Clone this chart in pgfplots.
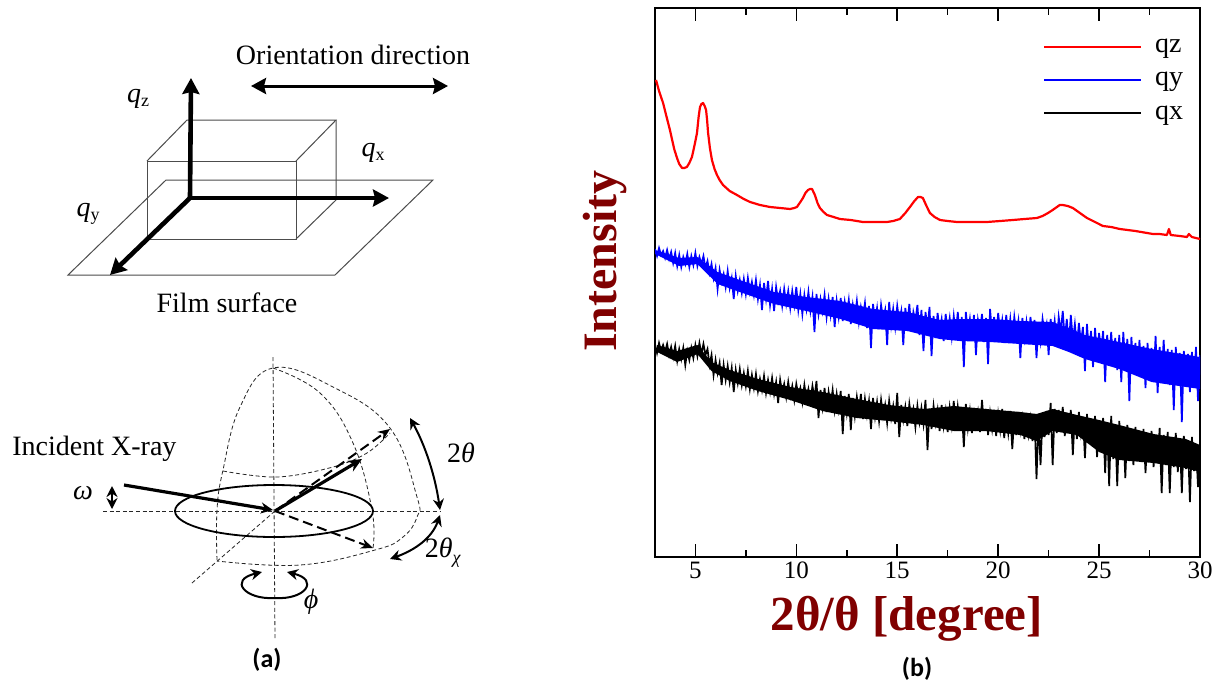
\documentclass[border=0pt]{standalone}
\usepackage{fontspec}
\setmainfont{Liberation Serif}
\newfontfamily\calib{Carlito}
\usepackage{pgfplots}
\pgfplotsset{compat=1.18}
\usetikzlibrary{arrows.meta}
\definecolor{lbl}{RGB}{128,0,0}
\newcommand{\fs}[1]{\fontsize{#1}{#1}\selectfont}
\pgfplotstableread{
3.05 477
3.2 466
3.4 454
3.6 438
3.74 427
3.95 408
4.09 399
4.2 393
4.34 389
4.45 389
4.58 390
4.7 394
4.83 400
4.95 411
5.08 424
5.16 440
5.23 450
5.3 453
5.38 454
5.46 451
5.53 447
5.58 437
5.63 424
5.72 409
5.82 397
5.95 388
6.07 382
6.2 377
6.37 372
6.7 366
7.06 362
7.4 358
7.71 355
8.2 352
8.7 350
9.2 349
9.69 348
9.9 349
10.03 350
10.2 355
10.33 359
10.45 364
10.58 367
10.68 368
10.78 368
10.85 365
10.92 362
11.05 354
11.17 349
11.35 345
11.52 342
11.85 340
12.16 338
12.7 337
13.3 335
13.9 335
14.49 335
14.8 336
15.13 338
15.4 344
15.63 350
15.85 356
16.03 360
16.15 360
16.27 359
16.45 351
16.62 344
16.85 340
17.12 337
17.5 336
17.96 335
18.7 335
19.44 335
20.1 336
20.73 337
21.3 338
21.92 339
22.2 341
22.47 344
22.7 347
22.91 350
23.05 352
23.2 352
23.45 351
23.7 349
24.05 344
24.4 339
24.8 335
25.19 331
25.6 330
26.03 328
26.8 326
27.67 323
28.0 323
28.36 322
28.46 328
28.55 322
29.0 321
29.35 320
29.45 323
29.6 320
29.8 319
30.0 318
}\qz
\pgfplotstableread{
3.0 308
3.1 301
3.2 309
3.3 302
3.4 306
3.5 299
3.6 307
3.7 298
3.8 305
3.9 294
4.0 304
4.1 291
4.2 302
4.3 290
4.4 300
4.5 293
4.6 303
4.7 290
4.8 301
4.9 292
5.0 304
5.1 291
5.2 300
5.3 293
5.4 301
5.5 289
5.6 296
5.7 284
5.8 293
5.9 279
6.0 289
6.1 268
6.2 287
6.3 275
6.4 283
6.5 270
6.6 286
6.7 269
6.8 279
6.9 258
7.0 281
7.1 266
7.2 277
7.3 264
7.4 278
7.5 263
7.6 279
7.7 265
7.8 275
7.9 262
8.0 277
8.1 258
8.2 272
8.3 247
8.4 274
8.5 258
8.6 276
8.7 252
8.8 268
8.9 246
9.0 270
9.1 256
9.2 266
9.3 251
9.4 268
9.5 253
9.6 266
9.7 249
9.8 266
9.9 252
10.0 270
10.1 247
10.2 263
10.3 243
10.4 262
10.5 248
10.6 265
10.7 246
10.8 260
10.9 225
11.0 263
11.1 243
11.2 258
11.3 246
11.4 262
11.5 240
11.6 258
11.7 242
11.8 260
11.9 230
12.0 256
12.1 240
12.2 259
12.3 236
12.4 255
12.5 242
12.6 257
12.7 233
12.8 252
12.9 239
13.0 256
13.1 235
13.2 250
13.3 240
13.4 254
13.5 229
13.6 251
13.7 209
13.8 253
13.9 236
14.0 249
14.1 228
14.2 252
14.3 238
14.4 247
14.5 212
14.6 255
14.7 232
14.8 248
14.9 230
15.0 251
15.1 236
15.2 246
15.3 212
15.4 249
15.5 233
15.6 253
15.7 226
15.8 245
15.9 236
16.0 252
16.1 222
16.2 247
16.3 206
16.4 245
16.5 229
16.6 250
16.7 201
16.8 241
16.9 219
17.0 244
17.1 227
17.2 238
17.3 216
17.4 243
17.5 225
17.6 239
17.7 220
17.8 241
17.9 222
18.0 245
18.1 219
18.2 240
18.3 190
18.4 245
18.5 224
18.6 238
18.7 218
18.8 242
18.9 202
19.0 237
19.1 226
19.2 243
19.3 215
19.4 239
19.5 193
19.6 248
19.7 222
19.8 240
19.9 217
20.0 244
20.1 225
20.2 237
20.3 214
20.4 242
20.5 221
20.6 238
20.7 216
20.8 240
20.9 224
21.0 236
21.1 199
21.2 239
21.3 219
21.4 235
21.5 213
21.6 240
21.7 222
21.8 237
21.9 199
22.0 234
22.1 216
22.2 238
22.3 224
22.4 233
22.5 202
22.6 238
22.7 219
22.8 236
22.9 212
23.0 240
23.1 225
23.2 246
23.3 218
23.4 238
23.5 211
23.6 242
23.7 217
23.8 233
23.9 210
24.0 234
24.1 214
24.2 230
24.3 186
24.4 233
24.5 204
24.6 226
24.7 190
24.8 229
24.9 200
25.0 224
25.1 206
25.2 226
25.3 175
25.4 222
25.5 198
25.6 225
25.7 193
25.8 219
25.9 187
26.0 222
26.1 175
26.2 225
26.3 190
26.4 218
26.5 156
26.6 220
26.7 188
26.8 214
26.9 183
27.0 217
27.1 181
27.2 211
27.3 169
27.4 214
27.5 186
27.6 209
27.7 178
27.8 221
27.9 164
28.0 210
28.1 180
28.2 217
28.3 176
28.4 208
28.5 172
28.6 207
28.7 147
28.8 210
28.9 175
29.0 204
29.1 135
29.2 206
29.3 171
29.4 203
29.5 165
29.6 205
29.7 170
29.8 210
29.9 156
30.0 202
}\qy
\pgfplotstableread{
3.0 213
3.1 204
3.2 214
3.3 206
3.4 212
3.5 205
3.6 213
3.7 202
3.8 210
3.9 200
4.0 211
4.1 196
4.2 208
4.3 198
4.4 209
4.5 192
4.6 206
4.7 197
4.8 209
4.9 199
5.0 212
5.1 201
5.2 214
5.3 203
5.4 213
5.5 202
5.6 208
5.7 192
5.8 202
5.9 182
6.0 197
6.1 184
6.2 194
6.3 172
6.4 192
6.5 177
6.6 191
6.7 175
6.8 189
6.9 165
7.0 187
7.1 174
7.2 188
7.3 172
7.4 184
7.5 171
7.6 186
7.7 168
7.8 182
7.9 169
8.0 183
8.1 166
8.2 178
8.3 167
8.4 181
8.5 164
8.6 177
8.7 165
8.8 179
8.9 163
9.0 175
9.1 154
9.2 177
9.3 164
9.4 173
9.5 160
9.6 175
9.7 161
9.8 171
9.9 157
10.0 173
10.1 162
10.2 169
10.3 155
10.4 172
10.5 158
10.6 168
10.7 156
10.8 171
10.9 159
11.0 176
11.1 139
11.2 167
11.3 150
11.4 169
11.5 145
11.6 165
11.7 152
11.8 167
11.9 147
12.0 163
12.1 148
12.2 166
12.3 123
12.4 161
12.5 144
12.6 163
12.7 127
12.8 159
12.9 141
13.0 160
13.1 146
13.2 163
13.3 138
13.4 158
13.5 142
13.6 156
13.7 128
13.8 159
13.9 140
14.0 155
14.1 136
14.2 157
14.3 141
14.4 152
14.5 134
14.6 156
14.7 139
14.8 151
14.9 133
15.0 164
15.1 120
15.2 152
15.3 137
15.4 150
15.5 131
15.6 153
15.7 138
15.8 148
15.9 130
16.0 151
16.1 135
16.2 149
16.3 133
16.4 157
16.5 107
16.6 148
16.7 128
16.8 151
16.9 134
17.0 147
17.1 126
17.2 152
17.3 131
17.4 146
17.5 125
17.6 149
17.7 132
17.8 156
17.9 127
18.0 150
18.1 133
18.2 147
18.3 110
18.4 153
18.5 129
18.6 146
18.7 124
18.8 149
18.9 132
19.0 145
19.1 125
19.2 157
19.3 130
19.4 148
19.5 122
19.6 144
19.7 128
19.8 147
19.9 121
20.0 143
20.1 127
20.2 148
20.3 119
20.4 142
20.5 124
20.6 146
20.7 108
20.8 140
20.9 122
21.0 145
21.1 126
21.2 139
21.3 118
21.4 144
21.5 123
21.6 138
21.7 116
21.8 143
21.9 78
22.0 137
22.1 92
22.2 140
22.3 120
22.4 146
22.5 122
22.6 154
22.7 92
22.8 148
22.9 124
23.0 147
23.1 128
23.2 150
23.3 121
23.4 144
23.5 125
23.6 147
23.7 102
23.8 142
23.9 118
24.0 145
24.1 124
24.2 140
24.3 99
24.4 143
24.5 114
24.6 138
24.7 120
24.8 141
24.9 100
25.0 136
25.1 112
25.2 139
25.3 84
25.4 133
25.5 71
25.6 141
25.7 98
25.8 130
25.9 71
26.0 136
26.1 102
26.2 128
26.3 79
26.4 132
26.5 96
26.6 126
26.7 92
26.8 130
26.9 100
27.0 124
27.1 95
27.2 128
27.3 84
27.4 122
27.5 97
27.6 126
27.7 90
27.8 120
27.9 94
28.0 129
28.1 64
28.2 122
28.3 92
28.4 125
28.5 64
28.6 119
28.7 90
28.8 124
28.9 85
29.0 117
29.1 64
29.2 121
29.3 88
29.4 116
29.5 55
29.6 120
29.7 86
29.8 113
29.9 70
30.0 112
}\qx
\begin{document}
\begin{tikzpicture}
\path[use as bounding box,fill=white] (0,0) rectangle (612pt,-342.5pt);
\begin{axis}[
  name=main, at={(327.5pt,-278.5pt)}, anchor=south west,
  width=272.5pt, height=274.5pt, scale only axis,
  xmin=3, xmax=30, ymin=0, ymax=549,
  axis line style={line width=1pt},
  xtick={5,10,15,20,25,30}, minor xtick={7.5,12.5,17.5,22.5,27.5},
  ytick=\empty, xtick align=inside, xtick pos=both,
  major tick length=6.5pt, minor tick length=3.5pt,
  tick style={black,line width=0.8pt},
  xticklabel pos=bottom,
  tick label style={font=\fs{12.5}},
  xticklabel style={/pgf/number format/assume math mode=true,yshift=1pt},
  xlabel={\fs{24.5}\bfseries\color{lbl}2θ/θ [degree]},
  xlabel style={at={(axis description cs:0.462,-0.113)},anchor=center},
  ylabel={\fs{24}\bfseries\color{lbl}Intensity},
  ylabel style={at={(axis description cs:-0.092,0.539)},anchor=center},
  legend style={at={(axis description cs:0.712,0.955)},anchor=north west,draw=none,fill=none,
     inner sep=0pt,outer sep=0pt,font=\fs{14},row sep=2.6pt,
     nodes={inner sep=1pt,text height=9pt,text depth=3pt}},
  legend cell align=left,
  legend image code/.code={\draw[#1,line width=1pt] (0pt,0pt) -- (48.5pt,0pt);\path[draw=none] (0pt,0pt) -- (54.5pt,0pt);},
]
\addplot[red,line width=1.1pt,line join=round] table[x index=0,y index=1] {\qz};
\addplot[blue,line width=0.85pt] table[x index=0,y index=1] {\qy};
\addplot[black,line width=0.85pt] table[x index=0,y index=1] {\qx};
\legend{qz,qy,qx}
% solid core of the two noisy bands
\addplot[blue,fill=blue,draw=none,forget plot] coordinates {
(3,307)(4.2,299)(5.1,300)(6.1,285)(7.2,277)(8.9,265)(10.5,260)(12.2,256)(13.8,248)(15.5,245)(17.1,237)(18.1,238)(19.6,238)(21.1,236)(22.7,235)(23.5,229)(24.3,222)(26,215)(27.6,208)(30,200)
(30,168)(27.6,175)(26,188)(24.3,198)(23.5,205)(22.7,211)(21.1,213)(19.6,215)(18.1,216)(17.1,218)(15.5,226)(13.8,228)(12.2,238)(10.5,246)(8.9,253)(7.2,265)(6.1,273)(5.1,293)(4.2,291)(3,303)} -- cycle;
\addplot[black,fill=black,draw=none,forget plot] coordinates {
(3.1,212)(4.1,206)(5.1,212)(5.8,195)(6.7,187)(8.1,178)(9.7,170)(11.3,165)(13,158)(14.6,152)(16.3,148)(17.8,151)(19.4,148)(21.1,145)(21.9,143)(22.7,148)(23.9,142)(25,137)(26,132)(27.7,123)(29.3,118)(30,112)
(30,85)(29.3,89)(27.7,94)(26,97)(25,105)(23.9,122)(22.7,126)(21.9,116)(21.1,122)(19.4,126)(17.8,126)(16.3,132)(14.6,136)(13,139)(11.3,146)(9.7,157)(8.1,166)(6.7,176)(5.8,186)(5.1,203)(4.1,195)(3.1,205)} -- cycle;
\end{axis}
\begin{scope}[x=0.5pt,y=-0.5pt]
% film and box
\begin{scope}[draw=black!70,line width=0.5pt]
\draw (68,275) -- (335,275) -- (433,180) -- (166,180) -- cycle;
\draw (147,161) rectangle (296,239);
\draw (147,161) -- (187,120) -- (336,120) -- (296,161);
\draw (336,120) -- (336,200) -- (296,239);
\end{scope}
\draw[line width=2.3pt,-{Stealth[length=8pt,width=8.5pt,inset=1pt]}] (190,198) -- (191,78);
\draw[line width=2.3pt,-{Stealth[length=8pt,width=8.5pt,inset=1pt]}] (189,198) -- (389,198);
\draw[line width=2.3pt,-{Stealth[length=8pt,width=8.5pt,inset=1pt]}] (190,198) -- (110,275);
\draw[line width=1.5pt,{Stealth[length=7.5pt,width=8pt,inset=1pt]}-{Stealth[length=7.5pt,width=8pt,inset=1pt]}] (251,86) -- (448,86);
\node[font=\fs{14}] at (353,55) {Orientation direction};
\node[font=\fs{14}] at (227,303) {Film surface};
\node[font=\fs{14}] at (138,99) {\textit{q}\raisebox{-2pt}{\fs{9}z}};
\node[font=\fs{14}] at (373,153) {\textit{q}\raisebox{-2pt}{\fs{9}x}};
\node[font=\fs{14}] at (88,214) {\textit{q}\raisebox{-2pt}{\fs{9}y}};
% goniometer
\begin{scope}[line width=0.4pt,dash pattern=on 2pt off 1.3pt,black!85]
\draw (273,357) -- (275,640);
\draw (103,511) -- (440,511);
\draw (192,583) -- (275,511);
\draw plot[smooth,tension=0.7] coordinates {(217,560) (217,510) (223,470) (240,407) (273,368) (333,387) (390,428) (417,497) (417,517) (403,537) (375,550) (300,565) (217,561)};
\draw plot[smooth,tension=0.7] coordinates {(273,368) (320,393) (353,443) (372,510) (373,548)};
\draw plot[smooth,tension=0.6] coordinates {(223,471) (277,477) (333,467) (367,453) (390,433)};
\end{scope}
\draw[line width=0.9pt] (274,511) ellipse (99 and 26);
\draw[line width=1.6pt,-{Stealth[length=6pt,width=5.5pt]}] (124,485) -- (273,510);
\draw[line width=1.6pt,-{Stealth[length=7pt,width=6pt]}] (275,511) -- (362,459);
\draw[line width=1pt,dash pattern=on 5pt off 2.5pt,-{Stealth[length=6pt,width=5pt]}] (275,511) -- (390,429);
\draw[line width=1pt,dash pattern=on 5pt off 2.5pt,-{Stealth[length=6pt,width=5pt]}] (275,511) -- (373,548);
\draw[line width=1pt,{Stealth[length=5.5pt,width=5.5pt]}-{Stealth[length=5.5pt,width=5.5pt]}] (410,418) .. controls (425,445) and (435,475) .. (440,510);
\draw[line width=1pt,{Stealth[length=5.5pt,width=5.5pt]}-{Stealth[length=5.5pt,width=5.5pt]}] (440,515) .. controls (432,538) and (415,550) .. (390,559);
\draw[line width=1pt,{Stealth[length=5.5pt,width=5.5pt]}-{Stealth[length=5.5pt,width=5.5pt]}] (112,486) -- (112,509);
\draw[line width=1pt,-{Stealth[length=5.5pt,width=5.5pt]}] (275,598) .. controls (245,600) and (228,580) .. (262,572);
\draw[line width=1pt,-{Stealth[length=5.5pt,width=5.5pt]}] (275,598) .. controls (305,600) and (320,580) .. (287,572);
\node[font=\fs{14},anchor=west,inner sep=0pt] at (12,449) {Incident X-ray};
\node[font=\fs{14}] at (83,493) {\textit{ω}};
\node[font=\fs{14}] at (461,453) {2\textit{θ}};
\node[font=\fs{14}] at (443,553) {2\textit{θ}\raisebox{-3pt}{\fs{9}\textit{χ}}};
\node[font=\fs{14}] at (311,602) {\textit{ϕ}};
\node[font=\fs{13}\calib\bfseries] at (267,660) {(a)};
\node[font=\fs{13}\calib\bfseries] at (917,669) {(b)};
\end{scope}
\end{tikzpicture}
\end{document}
